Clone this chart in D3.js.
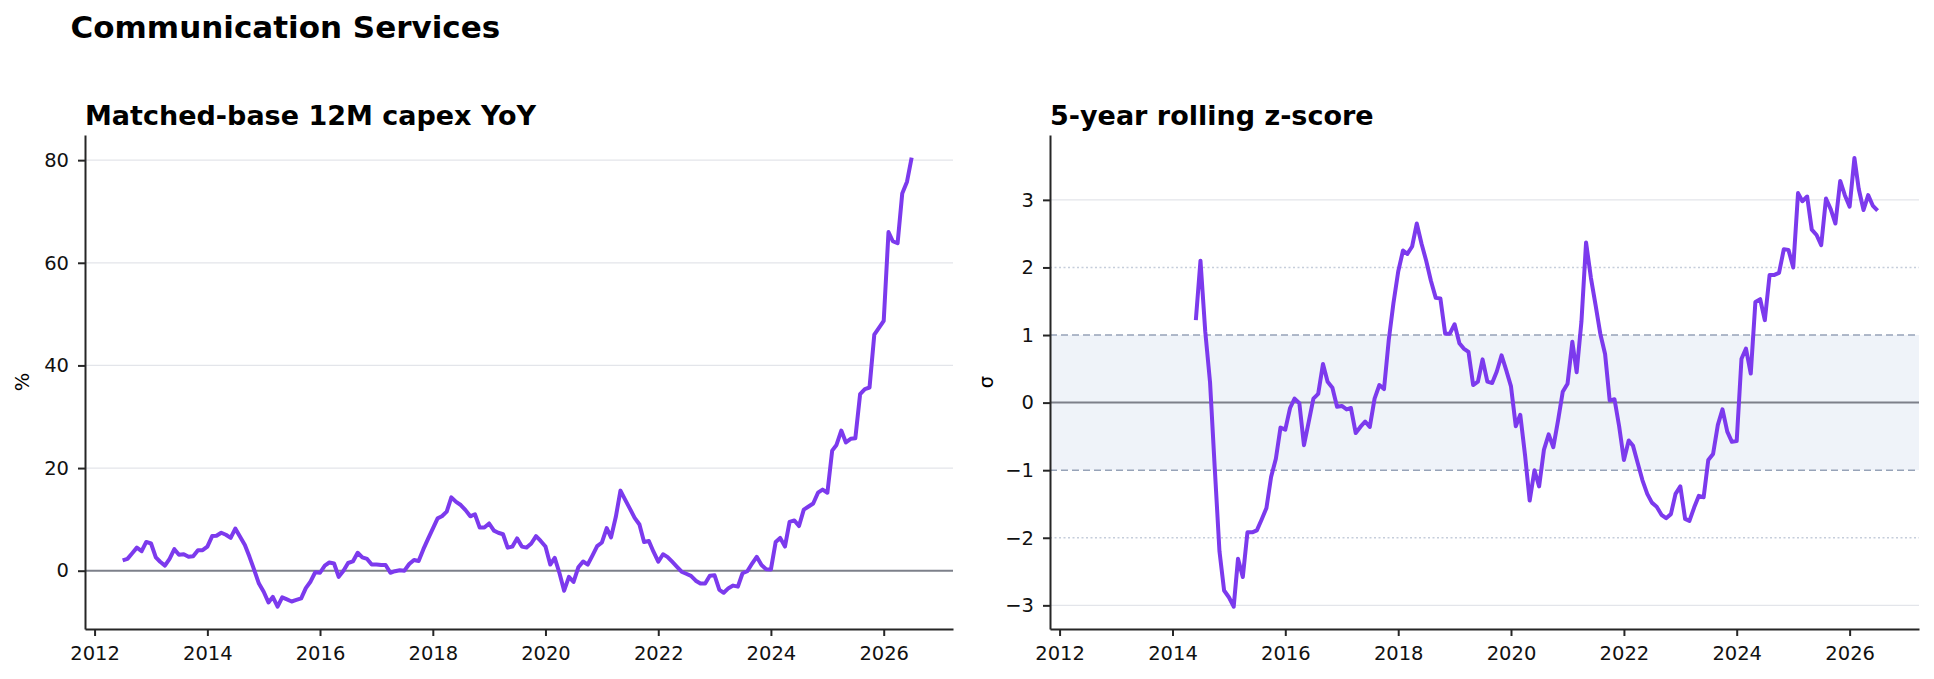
<!DOCTYPE html>
<html>
<head>
<meta charset="utf-8">
<script src="https://cdnjs.cloudflare.com/ajax/libs/d3/7.8.5/d3.min.js"></script>
<style>
  body { margin: 0; background: white; }
  svg { display: block; font-family: "DejaVu Sans", sans-serif; }
</style>
</head>
<body>
<div id="viz_area"></div>
<script>
var width = 1934
var height = 679

// monthly series, first month given by *Start
var capexStart = "2012-07"
var capexYoY = [
  2.0, 2.3, 3.4, 4.5, 3.8, 5.6, 5.3, 2.6, 1.75, 1.0,
  2.3, 4.2, 3.1, 3.2, 2.7, 2.8, 4.0, 4.0, 4.7, 6.75,
  6.8, 7.4, 7.0, 6.4, 8.2, 6.6, 5.0, 2.7, 0.1, -2.5,
  -4.1, -6.2, -5.1, -7.0, -5.2, -5.6, -6.0, -5.7, -5.4, -3.4,
  -2.1, -0.3, -0.4, 1.0, 1.6, 1.4, -1.2, 0.0, 1.5, 1.8,
  3.5, 2.6, 2.3, 1.2, 1.2, 1.1, 1.1, -0.4, -0.1, 0.1,
  0.0, 1.3, 2.1, 1.9, 4.2, 6.2, 8.2, 10.2, 10.6, 11.5,
  14.3, 13.4, 12.8, 11.8, 10.6, 11.0, 8.4, 8.4, 9.2, 7.8,
  7.4, 7.1, 4.5, 4.7, 6.3, 4.7, 4.5, 5.3, 6.75, 5.8,
  4.7, 1.2, 2.5, -0.5, -3.9, -1.2, -2.2, 0.65, 1.8, 1.2,
  3.0, 4.8, 5.5, 8.3, 6.5, 10.5, 15.6, 13.8, 12.1, 10.3,
  9.0, 5.6, 5.8, 3.7, 1.75, 3.2, 2.7, 1.75, 0.8, -0.2,
  -0.6, -1.0, -1.95, -2.5, -2.5, -1.0, -0.9, -3.75, -4.3, -3.4,
  -2.9, -3.1, -0.5, -0.1, 1.4, 2.7, 1.1, 0.3, 0.25, 5.6,
  6.4, 4.7, 9.5, 9.8, 8.7, 11.9, 12.5, 13.1, 15.2, 15.8,
  15.2, 23.4, 24.5, 27.3, 25.0, 25.7, 25.8, 34.4, 35.4, 35.7,
  46.0, 47.3, 48.7, 66.0, 64.2, 63.8, 73.5, 75.8, 80.5
]

var zStart = "2014-06"
var zScore = [
  1.22, 2.10, 1.05, 0.3, -0.95, -2.2, -2.78, -2.88, -3.02, -2.31,
  -2.58, -1.92, -1.92, -1.89, -1.73, -1.56, -1.10, -0.83, -0.37, -0.40,
  -0.08, 0.06, -0.01, -0.63, -0.28, 0.06, 0.13, 0.57, 0.31, 0.22,
  -0.06, -0.05, -0.10, -0.08, -0.45, -0.36, -0.28, -0.36, 0.06, 0.26,
  0.20, 0.93, 1.47, 1.94, 2.25, 2.20, 2.31, 2.65, 2.35, 2.10,
  1.80, 1.55, 1.54, 1.02, 1.02, 1.16, 0.88, 0.80, 0.75, 0.26,
  0.31, 0.64, 0.31, 0.29, 0.46, 0.70, 0.48, 0.24, -0.35, -0.18,
  -0.78, -1.45, -1.0, -1.24, -0.70, -0.47, -0.66, -0.26, 0.16, 0.28,
  0.90, 0.45, 1.20, 2.37, 1.85, 1.45, 1.02, 0.72, 0.03, 0.05,
  -0.35, -0.85, -0.56, -0.64, -0.90, -1.15, -1.35, -1.48, -1.54, -1.66,
  -1.71, -1.65, -1.35, -1.24, -1.72, -1.75, -1.55, -1.38, -1.40, -0.85,
  -0.76, -0.33, -0.10, -0.43, -0.58, -0.57, 0.65, 0.80, 0.43, 1.49,
  1.53, 1.22, 1.89, 1.89, 1.92, 2.27, 2.26, 2.0, 3.10, 2.98,
  3.05, 2.56, 2.48, 2.33, 3.02, 2.86, 2.65, 3.28, 3.07, 2.90,
  3.62, 3.16, 2.85, 3.07, 2.91, 2.84
]

var yearTicks = [2012, 2014, 2016, 2018, 2020, 2022, 2024, 2026]
var capexTicks = [0, 20, 40, 60, 80]
var zTicks = [-3, -2, -1, 0, 1, 2, 3]

var lineColor = "#7c3aed"
var tickFont = "19.5px"
var fontName = "DejaVu Sans"

var svg = d3.select("#viz_area")
  .append("svg")
  .attr("width", width)
  .attr("height", height)
  .style("background-color", "white");

function yearToDate(y) {
  var yr = Math.floor(y)
  return new Date(yr, 0, 1 + Math.round((y - yr) * 365))
}

function toSeries(start, values) {
  var d0 = d3.timeParse("%Y-%m")(start)
  return values.map((v, i) => ({ date: d3.timeMonth.offset(d0, i), value: v }))
}

function makePanel(box, yDomain, yTicks) {
  var scX = d3.scaleTime()
    .domain([yearToDate(2011.83), yearToDate(2027.23)])
    .range([box.left, box.right])
  var scY = d3.scaleLinear()
    .domain(yDomain)
    .range([box.bottom, box.top])
  return { box: box, scX: scX, scY: scY, yTicks: yTicks, g: svg.append("g") }
}

function hLine(p, v, color, w, dash) {
  p.g.append("line")
    .attr("x1", p.box.left).attr("x2", p.box.right)
    .attr("y1", p.scY(v)).attr("y2", p.scY(v))
    .attr("stroke", color)
    .attr("stroke-width", w)
    .attr("stroke-dasharray", dash || null)
}

function styleAxis(g) {
  g.attr("font-family", fontName).attr("font-size", tickFont)
  g.selectAll("text").attr("fill", "#111")
  g.selectAll("line, path").attr("stroke", "#262626").attr("stroke-width", 2)
}

function drawAxes(p, fmt) {
  p.g.append("g")
    .attr("transform", `translate(0,${p.box.bottom})`)
    .call(d3.axisBottom(p.scX)
      .tickValues(yearTicks.map(y => new Date(y, 0, 1)))
      .tickFormat(d3.timeFormat("%Y"))
      .tickSize(7).tickPadding(10).tickSizeOuter(0))
    .call(styleAxis)

  p.g.append("g")
    .attr("transform", `translate(${p.box.left},0)`)
    .call(d3.axisLeft(p.scY)
      .tickValues(p.yTicks)
      .tickFormat(fmt)
      .tickSize(7).tickPadding(9).tickSizeOuter(0))
    .call(styleAxis)
}

function drawLine(p, data) {
  p.g.append("path")
    .datum(data)
    .attr("fill", "none")
    .attr("stroke", lineColor)
    .attr("stroke-width", 4)
    .attr("stroke-linejoin", "round")
    .attr("d", d3.line().x(d => p.scX(d.date)).y(d => p.scY(d.value)))
}

function addTitle(p, text) {
  p.g.append("text")
    .attr("x", p.box.left)
    .attr("y", 125)
    .style("font-size", "27px")
    .style("font-weight", "bold")
    .text(text)
}

function addYLabel(p, x, text) {
  p.g.append("text")
    .attr("transform", `translate(${x},${(p.box.top + p.box.bottom) / 2}) rotate(-90)`)
    .attr("text-anchor", "middle")
    .style("font-size", tickFont)
    .text(text)
}

// left: capex YoY
var left = makePanel({ left: 85, right: 953, top: 135, bottom: 629 }, [-11.36, 84.9], capexTicks)
capexTicks.filter(v => v != 0).forEach(v => hLine(left, v, "#e3e5ea", 1.3))
hLine(left, 0, "#7d808a", 2)
drawLine(left, toSeries(capexStart, capexYoY))
drawAxes(left, d3.format("d"))
addTitle(left, "Matched-base 12M capex YoY")
addYLabel(left, 29, "%")

// right: rolling z-score
var right = makePanel({ left: 1050, right: 1919, top: 135, bottom: 629 }, [-3.35, 3.96], zTicks)
right.g.append("rect")
  .attr("x", right.box.left)
  .attr("y", right.scY(1))
  .attr("width", right.box.right - right.box.left)
  .attr("height", right.scY(-1) - right.scY(1))
  .attr("fill", "#eff3f9")
;[-3, 3].forEach(v => hLine(right, v, "#e3e5ea", 1.3))
;[-2, 2].forEach(v => hLine(right, v, "#c6cedb", 1.5, "2,2.5"))
;[-1, 1].forEach(v => hLine(right, v, "#97a3b8", 1.6, "7,4"))
hLine(right, 0, "#7d808a", 2)
drawLine(right, toSeries(zStart, zScore))
drawAxes(right, d3.format("d"))
addTitle(right, "5-year rolling z-score")
addYLabel(right, 993, "σ")

svg.append("text")
  .attr("x", 70.5)
  .attr("y", 38)
  .style("font-size", "31px")
  .style("font-weight", "bold")
  .text("Communication Services")
</script>
</body>
</html>
